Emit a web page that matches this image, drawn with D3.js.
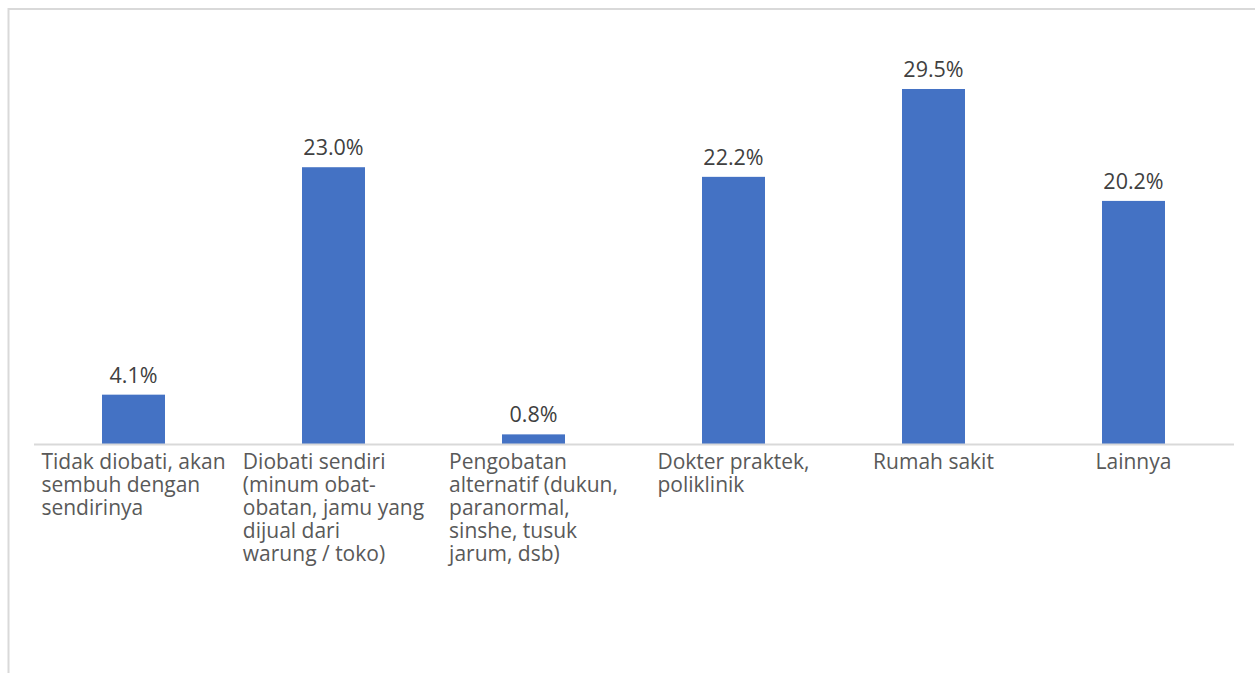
<!DOCTYPE html>
<html>
<head>
<meta charset="utf-8">
<script src="https://cdn.jsdelivr.net/npm/d3@7"></script>
<style>
  html, body { margin: 0; padding: 0; background: #fff; }
  svg { display: block; }
</style>
</head>
<body>
<svg id="chart" width="1255" height="673"></svg>
<script>
// Treatment choice shares (%)
const categories = [
  ["Tidak diobati, akan", "sembuh dengan", "sendirinya"],
  ["Diobati sendiri", "(minum obat-", "obatan, jamu yang", "dijual dari", "warung / toko)"],
  ["Pengobatan", "alternatif (dukun,", "paranormal,", "sinshe, tusuk", "jarum, dsb)"],
  ["Dokter praktek,", "poliklinik"],
  ["Rumah sakit"],
  ["Lainnya"]
];
const values = [4.1, 23.0, 0.8, 22.2, 29.5, 20.2];
const valueLabels = ["4.1%", "23.0%", "0.8%", "22.2%", "29.5%", "20.2%"];

const svg = d3.select("#chart");
const W = 1255, H = 673;
const FONT = "'Open Sans', 'DejaVu Sans', sans-serif";

// Outer chart frame (extends past the right and bottom edges)
svg.append("rect")
  .attr("x", 8.5).attr("y", 9)
  .attr("width", W + 20).attr("height", H + 20)
  .attr("fill", "none")
  .attr("stroke", "#d9d9d9")
  .attr("stroke-width", 2);

const x = d3.scaleBand()
  .domain(d3.range(categories.length))
  .range([33.5, 1233.5])
  .paddingInner(0.685)
  .paddingOuter(0.3425);

const baseY = 444;
const y = d3.scaleLinear().domain([0, 35]).range([baseY, baseY - 35 * 12.034]);

// Bars
svg.append("g").selectAll("rect")
  .data(values)
  .join("rect")
  .attr("x", (d, i) => x(i))
  .attr("width", x.bandwidth())
  .attr("y", d => y(d))
  .attr("height", d => y(0) - y(d))
  .attr("fill", "#4472c4");

// Value labels
svg.append("g").selectAll("text")
  .data(values)
  .join("text")
  .attr("x", (d, i) => x(i) + x.bandwidth() / 2)
  .attr("y", d => y(d) - 12)
  .attr("text-anchor", "middle")
  .attr("font-family", FONT)
  .attr("font-size", 21.5)
  .attr("fill", "#404040")
  .text((d, i) => valueLabels[i]);

// Category axis line
const axis = d3.axisBottom(x).tickSize(0).tickFormat("");
const axisG = svg.append("g").attr("transform", `translate(0,${baseY})`).call(axis);
axisG.select(".domain").attr("stroke", "#d9d9d9").attr("stroke-width", 2);

// Wrapped category labels: block centred in the band, lines left-aligned
categories.forEach((lines, i) => {
  const center = x(i) + x.bandwidth() / 2;
  const t = svg.append("text")
    .attr("font-family", FONT)
    .attr("font-size", 21)
    .attr("fill", "#595959");
  const spans = lines.map((ln, k) =>
    t.append("tspan").attr("y", 469 + k * 23).text(ln));
  const maxW = d3.max(spans, s => s.node().getComputedTextLength());
  const left = center - maxW / 2;
  spans.forEach(s => s.attr("x", left));
});
</script>
</body>
</html>
